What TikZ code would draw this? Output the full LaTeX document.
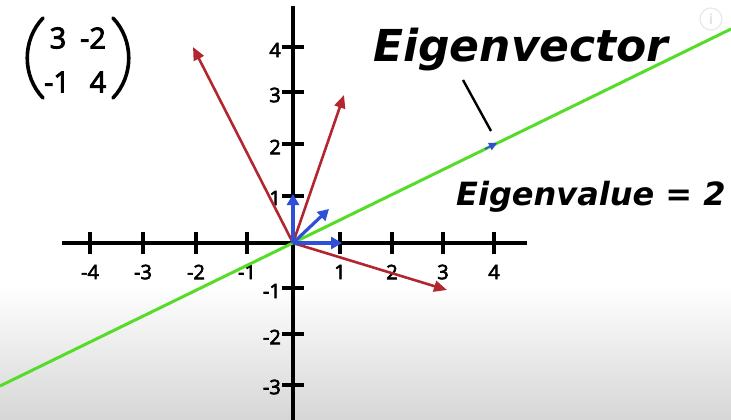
\documentclass[tikz,border=0pt]{standalone}
\usepackage{fontspec}
\setsansfont{Open Sans}
\newfontfamily\numfont[FakeBold=3]{Open Sans}
\newfontfamily\titlefont{DejaVu Sans}
\usetikzlibrary{arrows.meta}
\definecolor{redv}{RGB}{178,38,48}
\definecolor{bluev}{RGB}{45,80,215}
\definecolor{greenv}{RGB}{85,220,40}
\tikzset{
  axis/.style={line width=3.6pt,black},
  tick/.style={line width=3.2pt,black},
  lab/.style={font=\numfont\fontsize{20}{22}\selectfont,inner sep=0pt},
  mat/.style={font=\numfont\fontsize{29}{30}\selectfont,inner sep=0pt},
  redarrow/.style={line width=2.6pt,redv,-{Triangle[length=13pt,width=11pt]}},
  bluearrow/.style={line width=3.2pt,bluev,-{Triangle[length=11pt,width=12pt]}},
  paren/.style={line width=3.6pt,black,line cap=round},
  title/.style={inner sep=0pt,anchor=base west}
}
\begin{document}
\begin{tikzpicture}[x=1pt,y=-1pt]
\useasboundingbox (0,0) rectangle (731,420);
\shade[top color=white,bottom color=gray!32,draw=none] (0,285) rectangle (731,420);
% info icon
\node[circle,draw=gray!18,line width=1.2pt,minimum size=22pt,inner sep=0pt,text=gray!22,font=\sffamily\bfseries\fontsize{14}{14}\selectfont] (info) at (711,19) {i};
% axes
\coordinate (O) at (293,243);
\coordinate (xl) at (62,243);
\coordinate (xr) at (527,243);
\coordinate (yt) at (293,6);
\coordinate (yb) at (293,420);
\draw[axis] (xl) -- (xr);
\draw[axis] (yt) -- (yb);
\foreach \x in {90,143,196,247,340,392,443,494}
  \draw[tick] (\x,232) -- (\x,254);
\foreach \y in {47,92,144,196,288,334,385}
  \draw[tick] (282,\y) -- (304,\y);
% labels
\foreach \x/\t in {90/-4,143/-3,196/-2,247/-1,340/1,392/2,443/3,494/4}
  \node[lab] (lx\x) at (\x,272) {\t};
\foreach \y/\t in {50/4,95/3,147/2,198/1,291/-1,337/-2,387/-3}
  \node[lab,anchor=east] (ly\y) at (281,\y) {\t};
% green eigenvector line
\coordinate (gl) at (0,386);
\coordinate (gr) at (731,29);
\draw[greenv,line width=3pt] (gl) -- (gr);
% red transformed vectors
\coordinate (r1) at (193,47);
\coordinate (r2) at (344,95);
\coordinate (r3) at (447,290);
\draw[redarrow] (O) -- (r1);
\draw[redarrow] (O) -- (r2);
\draw[redarrow] (O) -- (r3);
% blue basis vectors
\coordinate (b1) at (293,194);
\coordinate (b2) at (342,243);
\coordinate (b3) at (329,209);
\draw[bluearrow] (O) -- (b1);
\draw[bluearrow] (O) -- (b2);
\draw[bluearrow] (O) -- (b3);
% small blue arrow on eigenvector line
\coordinate (e0) at (485,149);
\coordinate (e1) at (497,143);
\draw[bluev,line width=1.5pt,-{Triangle[length=8pt,width=8pt]}] (e0) -- (e1);
% titles
\node[title,font=\titlefont\bfseries\itshape\fontsize{44}{48}\selectfont] (ev) at (373,62) {Eigenvector};
\node[title,font=\titlefont\bfseries\itshape\fontsize{32}{34}\selectfont] (eval) at (456,205) {Eigenvalue = 2};
\coordinate (p0) at (463,80);
\coordinate (p1) at (491,131);
\draw[black,line width=2.4pt] (p0) -- (p1);
% matrix
\node[mat] (m11) at (58,38) {3};
\node[mat] (m12) at (93,38) {-2};
\node[mat] (m21) at (57,82) {-1};
\node[mat] (m22) at (98,82) {4};
\draw[paren] (43,18) .. controls (22,40) and (22,76) .. (43,98);
\draw[paren] (113,18) .. controls (134,40) and (134,76) .. (113,98);
\end{tikzpicture}
\end{document}
